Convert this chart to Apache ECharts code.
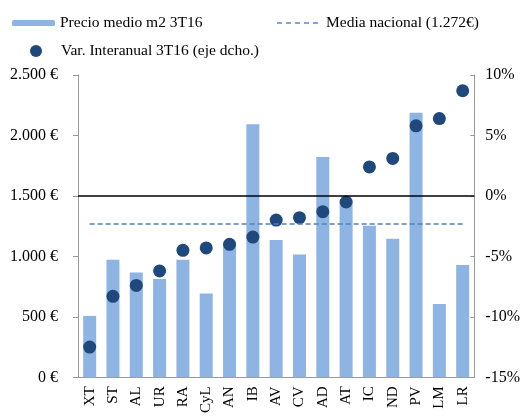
<!DOCTYPE html>
<html>
<head>
<meta charset="utf-8">
<script src="https://cdn.jsdelivr.net/npm/echarts@6/dist/echarts.min.js"></script>
<style>
  html, body { margin: 0; padding: 0; background: #fff; }
  #chart { width: 523px; height: 416px; }
</style>
</head>
<body>
<div id="chart"></div>
<script>
var regions = ["XT", "ST", "AL", "UR", "RA", "CyL", "AN", "IB", "AV", "CV", "AD", "AT", "IC", "ND", "PV", "LM", "LR"]
var precioMedio = [508, 973, 867, 813, 973, 693, 1100, 2093, 1136, 1016, 1821, 1450, 1253, 1145, 2188, 606, 929]
var varInteranual = [-12.5, -8.3, -7.4, -6.2, -4.5, -4.3, -4.0, -3.4, -2.0, -1.8, -1.3, -0.5, 2.4, 3.1, 5.8, 6.4, 8.7]
var mediaNacional = 1272
var leftTicks = [0, 2500, 500]
var rightTicks = [-15, 10, 5]

var font = "Liberation Serif"
// dashed legend icon, five short dashes
var dashIcon = "path://M0,0h5v2h-5z M9,0h5v2h-5z M18,0h5v2h-5z M27,0h5v2h-5z M36,0h5v2h-5z"

function euro(v) {
    return String(v).replace(/\B(?=(\d{3})+(?!\d))/g, ".") + " €"
}

var chart = echarts.init(document.getElementById("chart"))
chart.setOption({
    animation: false,
    textStyle: { fontFamily: font },
    grid: { left: 78, right: 48, top: 75, bottom: 34 },
    legend: [{
        data: ["Precio medio m2 3T16"],
        left: 7, top: 10,
        itemWidth: 43, itemHeight: 6,
        textStyle: { fontFamily: font, fontSize: 15.5, color: "#000" }
    }, {
        data: [{ name: "Media nacional (1.272€)", icon: dashIcon }],
        left: 272, top: 10,
        itemWidth: 41, itemHeight: 2,
        itemStyle: { color: "#7FA6DC" },
        textStyle: { fontFamily: font, fontSize: 15.5, color: "#000", padding: [0, 0, 0, 3] }
    }, {
        data: [{ name: "Var. Interanual 3T16 (eje dcho.)", icon: "circle" }],
        left: 25, top: 38,
        itemWidth: 40, itemHeight: 12,
        textStyle: { fontFamily: font, fontSize: 15.5, color: "#000" }
    }],
    xAxis: {
        type: "category",
        data: regions,
        axisLine: { lineStyle: { color: "#999" } },
        axisTick: { length: 5, lineStyle: { color: "#999" } },
        axisLabel: { rotate: 90, margin: 9, fontFamily: font, fontSize: 15, color: "#000" }
    },
    yAxis: [{
        type: "value",
        min: leftTicks[0], max: leftTicks[1], interval: leftTicks[2],
        splitLine: { show: false },
        axisLine: { show: true, lineStyle: { color: "#999" } },
        axisTick: { show: true, length: 5, lineStyle: { color: "#999" } },
        axisLabel: { margin: 20, fontFamily: font, fontSize: 16, color: "#000", formatter: euro }
    }, {
        type: "value",
        min: rightTicks[0], max: rightTicks[1], interval: rightTicks[2],
        splitLine: { show: false },
        axisLine: { show: true, lineStyle: { color: "#999" } },
        axisTick: { show: true, length: 4, inside: true, lineStyle: { color: "#999" } },
        axisLabel: { margin: 11, fontFamily: font, fontSize: 16, color: "#000", formatter: "{value}%" }
    }],
    series: [{
        name: "Precio medio m2 3T16",
        type: "bar",
        barWidth: 13,
        data: precioMedio,
        itemStyle: { color: "#8EB4E3" }
    }, {
        name: "Media nacional (1.272€)",
        type: "line",
        data: [],
        symbol: "none",
        lineStyle: { color: "#4F81BD", width: 1.5, type: [5, 3] },
        itemStyle: { color: "#4F81BD" },
        markLine: {
            silent: true,
            symbol: "none",
            label: { show: false },
            lineStyle: { color: "#4F81BD", width: 1.5, type: [5, 3] },
            data: [[{ coord: [regions[0], mediaNacional] }, { coord: [regions[regions.length - 1], mediaNacional] }]]
        },
        z: 3
    }, {
        name: "Var. Interanual 3T16 (eje dcho.)",
        type: "scatter",
        yAxisIndex: 1,
        symbolSize: 13,
        data: varInteranual,
        itemStyle: { color: "#1F497D", opacity: 1 },
        markLine: {
            silent: true,
            symbol: "none",
            label: { show: false },
            lineStyle: { color: "#000", width: 1.5, type: "solid" },
            data: [{ yAxis: 0 }]
        },
        z: 4
    }]
})
</script>
</body>
</html>
